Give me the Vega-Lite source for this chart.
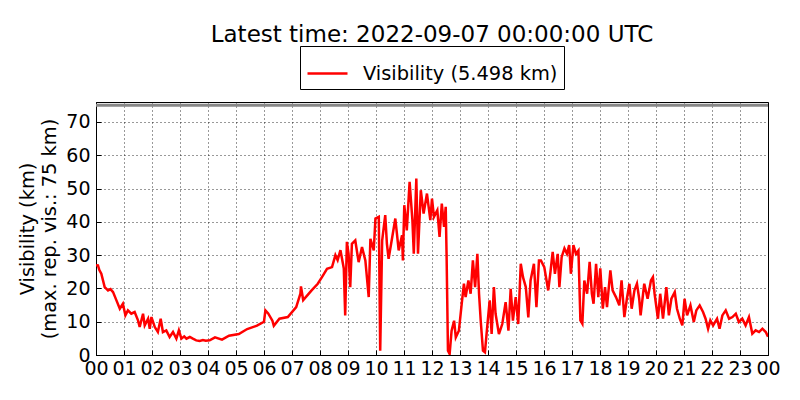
{
  "$schema": "https://vega.github.io/schema/vega-lite/v6.json",
  "description": "Visibility over the day, latest time 2022-09-07 00:00:00 UTC",
  "width": 672,
  "height": 253,
  "autosize": {"type": "none"},
  "padding": {"left": 96, "top": 102, "right": 32, "bottom": 45},
  "background": "white",
  "config": {
    "font": "DejaVu Sans",
    "view": {"stroke": "black", "strokeWidth": 1}
  },
  "title": {
    "text": "Latest time: 2022-09-07 00:00:00 UTC",
    "font": "DejaVu Sans",
    "fontSize": 23,
    "fontWeight": "normal",
    "color": "black",
    "anchor": "middle",
    "offset": -1
  },
  "layer": [
    {
      "data": {
        "values": [
          {"h": 0.0, "v": 27}, {"h": 0.07, "v": 26.9}, {"h": 0.12, "v": 25.5}, {"h": 0.19, "v": 24.4},
          {"h": 0.31, "v": 20.4}, {"h": 0.43, "v": 19.4}, {"h": 0.52, "v": 19.8}, {"h": 0.61, "v": 18.9},
          {"h": 0.73, "v": 16.4}, {"h": 0.85, "v": 13.9}, {"h": 0.96, "v": 15.4}, {"h": 1.05, "v": 11.9},
          {"h": 1.14, "v": 13.4}, {"h": 1.26, "v": 12.4}, {"h": 1.38, "v": 12.9}, {"h": 1.5, "v": 10.4},
          {"h": 1.56, "v": 8.4}, {"h": 1.68, "v": 12.4}, {"h": 1.74, "v": 8.9}, {"h": 1.86, "v": 10.9},
          {"h": 1.92, "v": 7.9}, {"h": 1.98, "v": 11.4}, {"h": 2.1, "v": 8.4}, {"h": 2.21, "v": 6.9},
          {"h": 2.31, "v": 10.9}, {"h": 2.39, "v": 6.9}, {"h": 2.51, "v": 7.4}, {"h": 2.63, "v": 5.4},
          {"h": 2.75, "v": 6.9}, {"h": 2.87, "v": 4.9}, {"h": 2.96, "v": 7.4}, {"h": 3.05, "v": 4.9},
          {"h": 3.15, "v": 5.6}, {"h": 3.23, "v": 4.9}, {"h": 3.35, "v": 5.4}, {"h": 3.46, "v": 4.9},
          {"h": 3.58, "v": 4.4}, {"h": 3.7, "v": 4.2}, {"h": 3.82, "v": 4.5}, {"h": 3.92, "v": 4.3},
          {"h": 4.06, "v": 4.4}, {"h": 4.25, "v": 5.3}, {"h": 4.5, "v": 4.6}, {"h": 4.75, "v": 5.8},
          {"h": 5.1, "v": 6.3}, {"h": 5.4, "v": 7.8}, {"h": 5.75, "v": 8.8}, {"h": 6.0, "v": 10},
          {"h": 6.05, "v": 13.4}, {"h": 6.15, "v": 12.5}, {"h": 6.3, "v": 10.3}, {"h": 6.35, "v": 8.8},
          {"h": 6.55, "v": 10.9}, {"h": 6.85, "v": 11.4}, {"h": 7.15, "v": 14.4}, {"h": 7.3, "v": 18.4},
          {"h": 7.32, "v": 20.6}, {"h": 7.4, "v": 16.5}, {"h": 7.7, "v": 19.4}, {"h": 7.92, "v": 21.4},
          {"h": 8.07, "v": 23.4}, {"h": 8.25, "v": 25.9}, {"h": 8.43, "v": 26.4}, {"h": 8.55, "v": 30},
          {"h": 8.63, "v": 28.5}, {"h": 8.73, "v": 31.5}, {"h": 8.85, "v": 26}, {"h": 8.9, "v": 11.9},
          {"h": 8.96, "v": 34}, {"h": 9.02, "v": 30.4}, {"h": 9.08, "v": 20.4}, {"h": 9.14, "v": 33.4},
          {"h": 9.26, "v": 34.4}, {"h": 9.38, "v": 27.9}, {"h": 9.5, "v": 32.4}, {"h": 9.62, "v": 28.4},
          {"h": 9.74, "v": 17.4}, {"h": 9.8, "v": 34.9}, {"h": 9.92, "v": 31.4}, {"h": 9.98, "v": 41},
          {"h": 10.1, "v": 41.5}, {"h": 10.15, "v": 1.3}, {"h": 10.22, "v": 34.4}, {"h": 10.33, "v": 42},
          {"h": 10.39, "v": 33.4}, {"h": 10.45, "v": 28.9}, {"h": 10.57, "v": 34.9}, {"h": 10.69, "v": 41},
          {"h": 10.81, "v": 31.4}, {"h": 10.93, "v": 36}, {"h": 10.96, "v": 28.4}, {"h": 11.01, "v": 45},
          {"h": 11.1, "v": 37.4}, {"h": 11.2, "v": 52}, {"h": 11.3, "v": 40.5}, {"h": 11.35, "v": 30.4},
          {"h": 11.44, "v": 53}, {"h": 11.5, "v": 30.4}, {"h": 11.6, "v": 49.5}, {"h": 11.7, "v": 42.5},
          {"h": 11.82, "v": 48.5}, {"h": 11.94, "v": 40.5}, {"h": 12.0, "v": 47}, {"h": 12.07, "v": 41.5},
          {"h": 12.19, "v": 43.5}, {"h": 12.27, "v": 35.5}, {"h": 12.35, "v": 45.5}, {"h": 12.43, "v": 38.5},
          {"h": 12.49, "v": 44.5}, {"h": 12.52, "v": 30.5}, {"h": 12.57, "v": 1.3}, {"h": 12.63, "v": 0.3},
          {"h": 12.7, "v": 7.3}, {"h": 12.79, "v": 10.3}, {"h": 12.85, "v": 5.3}, {"h": 12.96, "v": 7.3},
          {"h": 13.06, "v": 15.3}, {"h": 13.14, "v": 21.4}, {"h": 13.2, "v": 17.4}, {"h": 13.3, "v": 22.4},
          {"h": 13.38, "v": 18.4}, {"h": 13.46, "v": 28.4}, {"h": 13.54, "v": 20.4}, {"h": 13.62, "v": 30.4},
          {"h": 13.68, "v": 18.4}, {"h": 13.74, "v": 10.3}, {"h": 13.82, "v": 1.3}, {"h": 13.89, "v": 0.8},
          {"h": 13.97, "v": 8.3}, {"h": 14.06, "v": 16.4}, {"h": 14.13, "v": 6.3}, {"h": 14.21, "v": 20.4},
          {"h": 14.27, "v": 12.4}, {"h": 14.39, "v": 6.3}, {"h": 14.51, "v": 9.3}, {"h": 14.63, "v": 15.9},
          {"h": 14.73, "v": 7.3}, {"h": 14.81, "v": 19.9}, {"h": 14.89, "v": 10.3}, {"h": 14.99, "v": 17.4},
          {"h": 15.08, "v": 9.3}, {"h": 15.17, "v": 27.4}, {"h": 15.25, "v": 23.4}, {"h": 15.35, "v": 20.4},
          {"h": 15.44, "v": 11.3}, {"h": 15.52, "v": 22.4}, {"h": 15.64, "v": 27.4}, {"h": 15.73, "v": 14.4},
          {"h": 15.82, "v": 28.4}, {"h": 15.89, "v": 28.4}, {"h": 16.01, "v": 26.4}, {"h": 16.11, "v": 21.4},
          {"h": 16.15, "v": 19.4}, {"h": 16.23, "v": 24.9}, {"h": 16.31, "v": 31}, {"h": 16.39, "v": 24.4},
          {"h": 16.49, "v": 30.4}, {"h": 16.55, "v": 20.4}, {"h": 16.63, "v": 29.4}, {"h": 16.73, "v": 32},
          {"h": 16.82, "v": 30.4}, {"h": 16.9, "v": 33}, {"h": 16.96, "v": 24.4}, {"h": 17.05, "v": 33},
          {"h": 17.14, "v": 30.4}, {"h": 17.23, "v": 31.4}, {"h": 17.3, "v": 10.4}, {"h": 17.37, "v": 9.4},
          {"h": 17.44, "v": 22.4}, {"h": 17.54, "v": 18.4}, {"h": 17.63, "v": 28}, {"h": 17.71, "v": 18.4},
          {"h": 17.77, "v": 15.4}, {"h": 17.86, "v": 27.4}, {"h": 17.94, "v": 17.4}, {"h": 18.01, "v": 26},
          {"h": 18.1, "v": 13.9}, {"h": 18.18, "v": 20.4}, {"h": 18.25, "v": 14.4}, {"h": 18.37, "v": 25.4},
          {"h": 18.45, "v": 19.4}, {"h": 18.57, "v": 17.4}, {"h": 18.69, "v": 14.9}, {"h": 18.77, "v": 22.4},
          {"h": 18.87, "v": 11.4}, {"h": 18.96, "v": 16.9}, {"h": 19.05, "v": 21.4}, {"h": 19.13, "v": 13.9},
          {"h": 19.23, "v": 19.4}, {"h": 19.32, "v": 21.4}, {"h": 19.4, "v": 16.9}, {"h": 19.45, "v": 11.9},
          {"h": 19.58, "v": 21.4}, {"h": 19.7, "v": 16.9}, {"h": 19.82, "v": 22.4}, {"h": 19.89, "v": 23.4},
          {"h": 19.95, "v": 18.4}, {"h": 20.07, "v": 10.9}, {"h": 20.15, "v": 18.4}, {"h": 20.25, "v": 10.9},
          {"h": 20.37, "v": 20.4}, {"h": 20.46, "v": 11.9}, {"h": 20.55, "v": 16.9}, {"h": 20.67, "v": 18.9},
          {"h": 20.75, "v": 13.9}, {"h": 20.85, "v": 10.9}, {"h": 20.94, "v": 8.9}, {"h": 21.02, "v": 16.9},
          {"h": 21.11, "v": 11.9}, {"h": 21.23, "v": 14.9}, {"h": 21.35, "v": 9.9}, {"h": 21.44, "v": 13.4},
          {"h": 21.56, "v": 14.9}, {"h": 21.68, "v": 12.9}, {"h": 21.77, "v": 10.9}, {"h": 21.86, "v": 7.9},
          {"h": 21.94, "v": 10.4}, {"h": 22.04, "v": 8.9}, {"h": 22.18, "v": 10.9}, {"h": 22.27, "v": 7.9},
          {"h": 22.37, "v": 11.9}, {"h": 22.49, "v": 13.4}, {"h": 22.61, "v": 10.9}, {"h": 22.73, "v": 11.4},
          {"h": 22.85, "v": 12.4}, {"h": 22.96, "v": 9.9}, {"h": 23.08, "v": 10.9}, {"h": 23.2, "v": 8.9},
          {"h": 23.32, "v": 11.4}, {"h": 23.44, "v": 6.4}, {"h": 23.56, "v": 7.4}, {"h": 23.68, "v": 6.9},
          {"h": 23.8, "v": 7.9}, {"h": 23.92, "v": 6.9}, {"h": 24.0, "v": 5.5}
        ]
      },
      "mark": {"type": "line", "strokeWidth": 2.5, "strokeJoin": "miter", "clip": true},
      "encoding": {
        "x": {
          "field": "h",
          "type": "quantitative",
          "scale": {"domain": [0, 24], "nice": false, "zero": false},
          "axis": {
            "title": null,
            "values": [0, 1, 2, 3, 4, 5, 6, 7, 8, 9, 10, 11, 12, 13, 14, 15, 16, 17, 18, 19, 20, 21, 22, 23, 24],
            "tickCount": 30,
            "labelExpr": "datum.value == 24 ? '00' : (datum.value < 10 ? '0' + datum.value : '' + datum.value)",
            "labelFont": "DejaVu Sans",
            "labelFontSize": 19,
            "labelColor": "black",
            "labelPadding": 9,
            "labelFlush": false,
            "labelOverlap": false,
            "tickSize": -5,
            "tickColor": "black",
            "domainColor": "black",
            "grid": true,
            "gridColor": "black",
            "gridDash": [1, 3],
            "gridOpacity": 0.8
          }
        },
        "y": {
          "field": "v",
          "type": "quantitative",
          "scale": {"domain": [0, 76], "nice": false},
          "axis": {
            "title": ["Visibility (km)", "(max. rep. vis.: 75 km)"],
            "titleFont": "DejaVu Sans",
            "titleFontSize": 19.4,
            "titleFontWeight": "normal",
            "titleColor": "black",
            "titleLineHeight": 22,
            "titlePadding": 6,
            "values": [0, 10, 20, 30, 40, 50, 60, 70],
            "tickCount": 20,
            "labelFont": "DejaVu Sans",
            "labelFontSize": 19,
            "labelColor": "black",
            "labelPadding": 11,
            "labelFlush": false,
            "labelOverlap": false,
            "tickSize": -5,
            "tickColor": "black",
            "domainColor": "black",
            "grid": true,
            "gridColor": "black",
            "gridDash": [1, 3],
            "gridOpacity": 0.8
          }
        },
        "color": {
          "datum": "Visibility (5.498 km)",
          "type": "nominal",
          "scale": {"range": ["#ff0000"]},
          "legend": {
            "title": null,
            "orient": "none",
            "legendX": 204,
            "legendY": -56,
            "direction": "vertical",
            "strokeColor": "black",
            "fillColor": "white",
            "cornerRadius": 0,
            "padding": 6,
            "symbolType": "stroke",
            "symbolSize": 1600,
            "symbolStrokeWidth": 2.5,
            "labelFont": "DejaVu Sans",
            "labelFontSize": 19.4,
            "labelLimit": 500,
            "labelColor": "black",
            "labelOffset": 14
          }
        }
      }
    },
    {
      "data": {"values": [{"ref": 75}]},
      "mark": {"type": "rule", "color": "#888888", "strokeWidth": 3},
      "encoding": {
        "y": {"field": "ref", "type": "quantitative"}
      }
    }
  ]
}
